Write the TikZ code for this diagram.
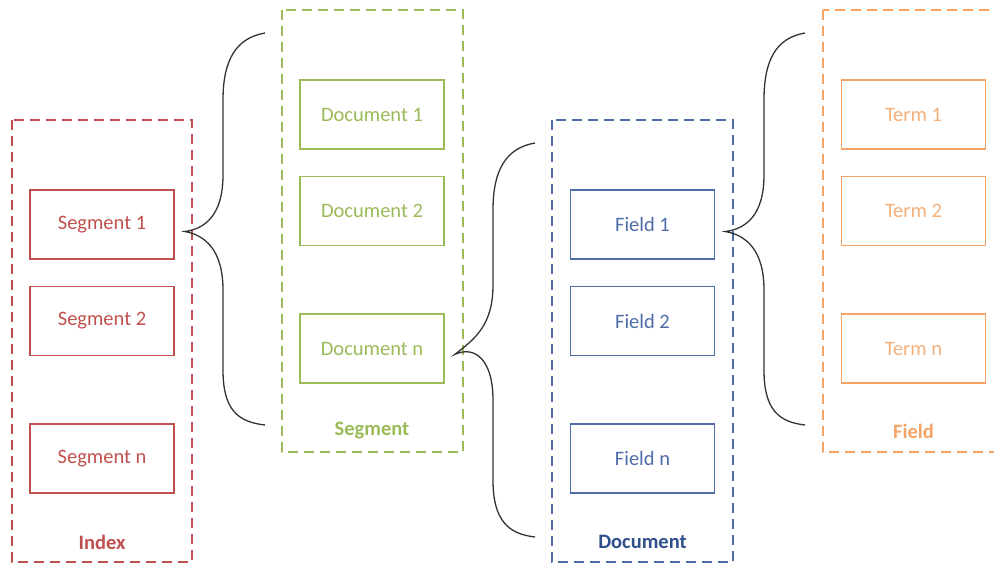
\documentclass[tikz,border=0pt]{standalone}
\usepackage{fontspec}
\setmainfont{Carlito}
\definecolor{cred}{HTML}{C0504D}
\definecolor{cgreen}{HTML}{9BBB59}
\definecolor{cblue}{HTML}{4F6DA8}
\definecolor{cblueD}{HTML}{2F4E8C}
\definecolor{corange}{HTML}{F5A465}
\definecolor{corangeT}{HTML}{F4B07A}
\begin{document}
\begin{tikzpicture}[x=1pt,y=-1pt,
  outer/.style={draw=#1, line width=1.4pt, dash pattern=on 10pt off 6pt},
  item/.style={draw=#1, line width=1.4pt, minimum width=144pt, minimum height=69pt, inner sep=0pt, text=#1, font=\fontsize{20.5}{24}\selectfont},
  lbl/.style={text=#1, font=\fontsize{20.5}{24}\selectfont\bfseries, inner sep=0pt},
  brace/.style={draw=black!80, line width=1.3pt}]
\useasboundingbox (0,0) rectangle (994,565);
% outer containers
\draw[outer=cred] (12,120) rectangle (192,562);
\draw[outer=cgreen] (282,10) rectangle (463,452);
\draw[outer=cblue] (552,120) rectangle (733,562);
\draw[outer=corange] (823,10) rectangle (1000,452);
% Index
\node[item=cred] (s1) at (102,224.5) {Segment 1};
\node[item=cred] (s2) at (102,321) {Segment 2};
\node[item=cred] (sn) at (102,458.5) {Segment n};
\node[lbl=cred] (ilbl) at (102,542) {Index};
% Segment
\node[item=cgreen] (d1) at (372,114.5) {Document 1};
\node[item=cgreen] (d2) at (372,211) {Document 2};
\node[item=cgreen] (dn) at (372,348.5) {Document n};
\node[lbl=cgreen] (slbl) at (372,431) {Segment};
% Document
\node[item=cblue] (f1) at (642.5,224.5) {Field 1};
\node[item=cblue] (f2) at (642.5,321) {Field 2};
\node[item=cblue] (fn) at (642.5,458.5) {Field n};
\node[lbl=cblueD] (dlbl) at (642.5,542) {Document};
% Field
\node[item=corange, text=corangeT] (t1) at (913.5,114.5) {Term 1};
\node[item=corange, text=corangeT] (t2) at (913.5,211) {Term 2};
\node[item=corange, text=corangeT] (tn) at (913.5,348.5) {Term n};
\node[lbl=corange] (flbl) at (913.5,431) {Field};
% braces
\coordinate (b1) at ([xshift=10pt,yshift=-7pt]s1.east);
\draw[brace] (265,33) .. controls (236,38) and (223,60) .. (223,100) -- (223,175)
  .. controls (223,215) and (205,229) .. (b1)
  .. controls (205,235) and (223,250) .. (223,290) -- (223,370)
  .. controls (223,410) and (238,422) .. (265,425);
\coordinate (b2) at ([xshift=10pt,yshift=-6pt]dn.east);
\draw[brace] (535,143) .. controls (506,148) and (493,170) .. (493,210) -- (493,285)
  .. controls (493,325) and (475,339) .. (b2)
  .. controls (475,345) and (493,360) .. (493,400) -- (493,480)
  .. controls (493,520) and (508,534) .. (535,537);
\coordinate (b3) at ([xshift=10pt,yshift=-7pt]f1.east);
\draw[brace] (805,33) .. controls (776,38) and (764,60) .. (764,100) -- (764,175)
  .. controls (764,215) and (746,229) .. (b3)
  .. controls (746,235) and (764,250) .. (764,290) -- (764,370)
  .. controls (764,410) and (779,422) .. (805,425);
\end{tikzpicture}
\end{document}
